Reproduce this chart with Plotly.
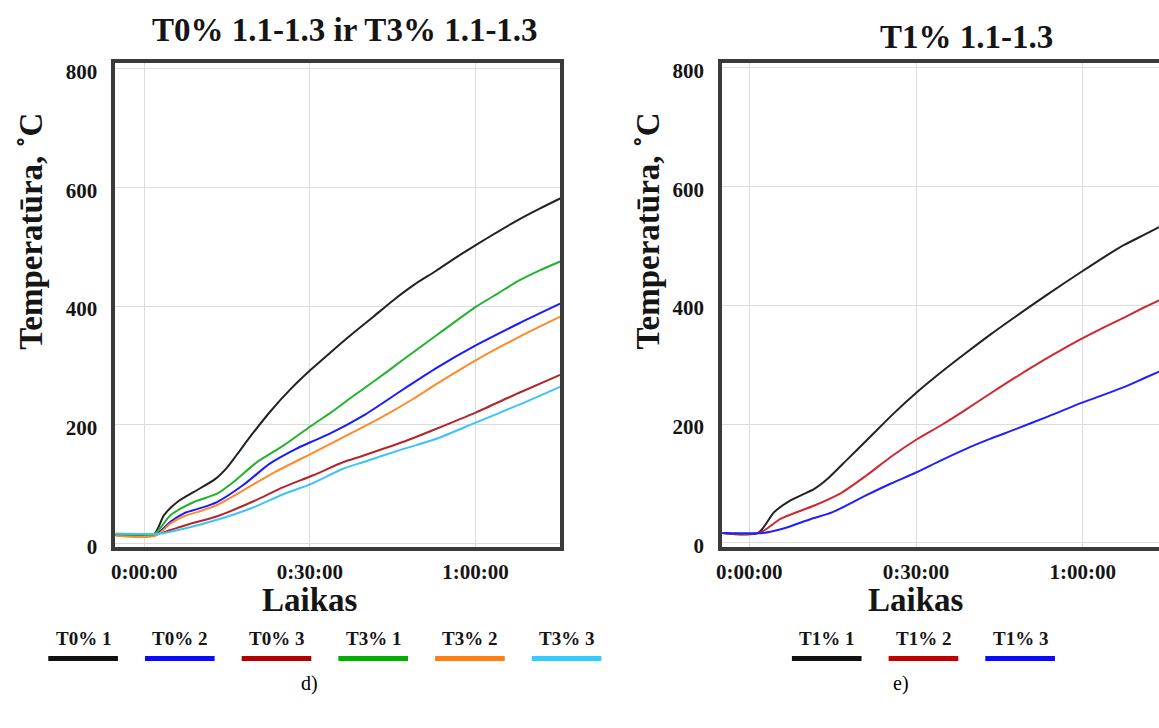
import plotly.graph_objects as go

W, H = 1159, 728
# mild vertical calibration (target pixel -> layout pixel)
Y_SCALE, Y_OFF = 0.988, 3.9

# ---------------- data (time in minutes, temperature in °C) ----------------
# Left panel: T0% and T3%
t_T0_1 = [-5.2, 1.7, 3.6, 6.0, 9.0, 12.9, 15.0, 16.8, 19.2, 22.8, 26.5, 30.2, 34.0, 37.8, 41.5, 45.0, 48.9, 52.8, 56.5, 60.1, 64.0, 67.9, 71.6, 75.3]
y_T0_1 = [15, 15, 48, 70, 87, 109, 128, 150, 180, 222, 260, 293, 324, 354, 382, 409, 436, 459, 482, 503, 525, 546, 564, 581]

t_T0_2 = [-5.2, 2.0, 4.8, 7.2, 9.6, 13.2, 18.0, 22.8, 27.6, 30.2, 33.6, 39.6, 46.8, 52.8, 60.1, 67.9, 75.3]
y_T0_2 = [15, 15, 37, 51, 58, 70, 99, 135, 160, 171, 185, 215, 259, 295, 334, 371, 404]

t_T0_3 = [-5.2, 2.0, 4.5, 7.5, 13.5, 19.5, 25.2, 30.6, 36.0, 39.6, 46.8, 52.8, 60.1, 67.9, 75.3]
y_T0_3 = [15, 15, 22, 31, 47, 70, 95, 115, 137, 148, 171, 193, 221, 254, 284]

t_T3_1 = [-5.2, 1.7, 4.8, 9.0, 13.2, 16.2, 20.4, 25.2, 30.2, 34.0, 37.8, 42.3, 46.8, 52.8, 56.5, 60.1, 64.0, 67.9, 71.6, 75.3]
y_T3_1 = [15, 15, 48, 70, 84, 104, 137, 165, 198, 222, 248, 278, 309, 350, 375, 399, 421, 443, 460, 475]

t_T3_2 = [-5.2, 2.0, 4.8, 7.2, 9.6, 13.2, 18.0, 24.0, 30.2, 35.4, 39.6, 44.0, 48.6, 52.8, 60.1, 67.9, 75.3]
y_T3_2 = [13, 13, 34, 46, 53, 65, 90, 122, 151, 176, 196, 218, 243, 268, 309, 348, 382]

t_T3_3 = [-5.2, 3.0, 7.2, 13.5, 19.5, 25.2, 30.1, 36.0, 39.6, 46.8, 52.8, 60.1, 67.9, 75.3]
y_T3_3 = [17, 17, 25, 41, 60, 83, 100, 126, 137, 159, 176, 204, 234, 264]

# Right panel: T1%
t_T1_1 = [-4.85, 1.6, 4.5, 7.5, 11.7, 14.1, 17.7, 21.9, 26.0, 30.1, 34.5, 38.9, 43.3, 47.8, 53.8, 59.9, 63.7, 67.6, 71.0, 73.7]
y_T1_1 = [17, 17, 52, 72, 91, 108, 141, 180, 218, 253, 287, 319, 350, 380, 419, 457, 480, 502, 518, 531]

t_T1_2 = [-4.85, 1.8, 5.7, 11.7, 16.5, 21.0, 25.5, 30.1, 34.5, 38.9, 43.3, 47.8, 53.8, 59.9, 63.7, 67.6, 71.0, 73.7]
y_T1_2 = [17, 17, 41, 63, 84, 113, 145, 174, 198, 224, 251, 278, 312, 344, 362, 380, 396, 408]

t_T1_3 = [-4.85, 2.5, 6.0, 11.0, 15.0, 21.0, 25.5, 30.1, 34.5, 38.9, 43.3, 47.8, 53.8, 59.9, 63.7, 67.6, 71.0, 73.7]
y_T1_3 = [17, 17, 24, 40, 52, 80, 100, 119, 139, 158, 175, 191, 213, 236, 249, 263, 277, 288]

left_names = ["T0% 1", "T0% 2", "T0% 3", "T3% 1", "T3% 2", "T3% 3"]
left_colors = ["#222222", "#1a1aff", "#b3262c", "#22b22e", "#ff8a2a", "#3cc3ff"]
left_legend_colors = ["#111111", "#0a0aff", "#b00000", "#00b000", "#ff7f10", "#33ccff"]
left_t = [t_T0_1, t_T0_2, t_T0_3, t_T3_1, t_T3_2, t_T3_3]
left_y = [y_T0_1, y_T0_2, y_T0_3, y_T3_1, y_T3_2, y_T3_3]

right_names = ["T1% 1", "T1% 2", "T1% 3"]
right_colors = ["#222222", "#d0282e", "#2020ff"]
right_legend_colors = ["#111111", "#c00000", "#0a0aff"]
right_t = [t_T1_1, t_T1_2, t_T1_3]
right_y = [y_T1_1, y_T1_2, y_T1_3]

x_tickvals = [0, 30, 60]
x_ticktext = ["0:00:00", "0:30:00", "1:00:00"]
y_tickvals = [0, 200, 400, 600, 800]

title_left = "T0% 1.1-1.3 ir T3% 1.1-1.3"
title_right = "T1% 1.1-1.3"
x_title = "Laikas"
y_title = "Temperatūra, ˚C"

# ---------------- figure ----------------
SERIF = "Liberation Serif, Times New Roman, serif"
TXT = "#151515"
FRAME = "#3a3a3a"
GRID = "#dcdcdc"


def px(x):
    return x / W


def py(y):
    return 1 - ((y - Y_OFF) / Y_SCALE) / H


fig = go.Figure()
for n, c, t, y in zip(left_names, left_colors, left_t, left_y):
    fig.add_trace(go.Scatter(x=t, y=y, name=n, mode="lines", xaxis="x", yaxis="y",
                             line=dict(color=c, width=2, shape="spline", smoothing=0.7)))
for n, c, t, y in zip(right_names, right_colors, right_t, right_y):
    fig.add_trace(go.Scatter(x=t, y=y, name=n, mode="lines", xaxis="x2", yaxis="y2",
                             line=dict(color=c, width=2, shape="spline", smoothing=0.7)))

ydom = [py(552), py(63)]
axis_common = dict(showgrid=True, gridcolor=GRID, gridwidth=1, zeroline=False,
                   showline=True, linecolor=FRAME, linewidth=4, ticks="",
                   tickfont=dict(family=SERIF, size=21, color=TXT, weight="bold"))

fig.update_layout(
    width=W, height=H, margin=dict(l=0, r=0, t=0, b=0),
    paper_bgcolor="white", plot_bgcolor="white", showlegend=False,
    xaxis=dict(domain=[px(110), px(557)], range=[-5.2, 75.3], anchor="y",
               tickvals=x_tickvals, ticktext=x_ticktext, mirror=True,
               ticklabelstandoff=3, **axis_common),
    yaxis=dict(domain=ydom, range=[-5, 810], anchor="x",
               tickvals=y_tickvals, mirror=True, ticklabelstandoff=10,
               ticklabelshift=3, **axis_common),
    xaxis2=dict(domain=[px(720), 1.0], range=[-4.85, 73.7], anchor="y2",
                tickvals=x_tickvals, ticktext=x_ticktext, mirror=True,
                ticklabelstandoff=3, **axis_common),
    yaxis2=dict(domain=ydom, range=[-6, 808], anchor="x2",
                tickvals=y_tickvals, mirror=False, ticklabelstandoff=10,
                ticklabelshift=3, **axis_common),
)

ann = []
# titles
ann.append(dict(text=title_left, x=px(341), y=py(30), xref="paper", yref="paper",
                showarrow=False, xanchor="center", yanchor="middle",
                font=dict(family=SERIF, size=33, color=TXT, weight="bold")))
ann.append(dict(text=title_right, x=px(965), y=py(37), xref="paper", yref="paper",
                showarrow=False, xanchor="center", yanchor="middle",
                font=dict(family=SERIF, size=33, color=TXT, weight="bold")))
# axis titles
for xr in ["x", "x2"]:
    ann.append(dict(text=x_title, x=30, y=py(606), xref=xr, yref="paper",
                    showarrow=False, xanchor="center", yanchor="middle",
                    font=dict(family=SERIF, size=33, color=TXT, weight="bold")))
for xc in [25, 645]:
    ann.append(dict(text=y_title, x=px(xc), y=py(233), xref="paper", yref="paper",
                    showarrow=False, xanchor="center", yanchor="middle", textangle=-90,
                    font=dict(family=SERIF, size=33, color=TXT, weight="bold")))
# captions
ann.append(dict(text="d)", x=px(305), y=py(690), xref="paper", yref="paper", showarrow=False,
                xanchor="center", yanchor="middle",
                font=dict(family=SERIF, size=20, color="#000")))
ann.append(dict(text="e)", x=px(900), y=py(690), xref="paper", yref="paper", showarrow=False,
                xanchor="center", yanchor="middle",
                font=dict(family=SERIF, size=20, color="#000")))

# custom legends: label above a thick coloured bar
shapes = []
LEG_SPACING = 97.2
LEG_HALF = 35


def add_legend(names, colors, x_start):
    for i, (n, c) in enumerate(zip(names, colors)):
        xc = x_start + i * LEG_SPACING
        ann.append(dict(text=n, x=px(xc), y=py(645), xref="paper", yref="paper",
                        showarrow=False, xanchor="center", yanchor="middle",
                        font=dict(family=SERIF, size=19, color=TXT, weight="bold")))
        shapes.append(dict(type="line", xref="paper", yref="paper",
                           x0=px(xc - LEG_HALF), x1=px(xc + LEG_HALF),
                           y0=py(665), y1=py(665), line=dict(color=c, width=5)))


add_legend(left_names, left_legend_colors, 77.5)
add_legend(right_names, right_legend_colors, 825)

fig.update_layout(annotations=ann, shapes=shapes)
fig.write_html("out.html", config={"displayModeBar": False},
               post_script="document.body.style.margin='0px';document.body.style.overflow='hidden';")
